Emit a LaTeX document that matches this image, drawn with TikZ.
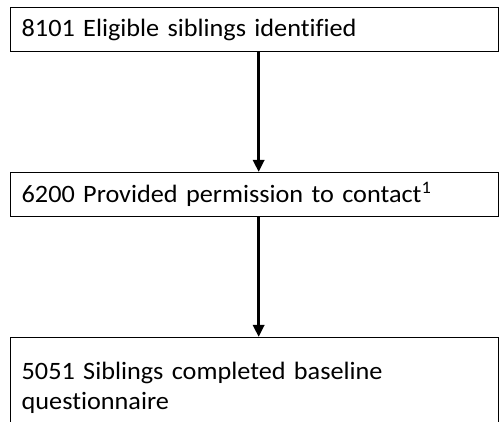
\documentclass[tikz,border=0pt]{standalone}
\usepackage{fontspec}
\setmainfont{Carlito}[Ligatures=NoCommon, FakeStretch=1.05]
\usetikzlibrary{arrows.meta}
\begin{document}
\begin{tikzpicture}[x=1pt,y=1pt,
  flowbox/.style={draw=black, line width=1.3pt, anchor=north west, minimum width=488pt, minimum height=44pt, inner xsep=11pt, align=left, text width=466pt, font=\fontsize{25}{30}\selectfont},
  flowarrow/.style={line width=3.5pt, -{Triangle[width=11pt,length=12pt]}}]
\useasboundingbox (0,0) rectangle (499,-422);
\clip (0,0) rectangle (499,-422);
\node[flowbox] (b1) at (10,-7) {8101 Eligible siblings identified};
\node[flowbox] (b2) at (10,-172) {6200 Provided permission to contact\textsuperscript{1}};
\node[flowbox, inner ysep=24pt] (b3) at (10,-337) {5051 Siblings completed baseline\\ questionnaire};
\draw[flowarrow] ([xshift=4pt]b1.south) -- ([xshift=4pt]b1.south |- b2.north);
\draw[flowarrow] ([xshift=4pt]b2.south) -- ([xshift=4pt]b2.south |- b3.north);
\end{tikzpicture}
\end{document}
